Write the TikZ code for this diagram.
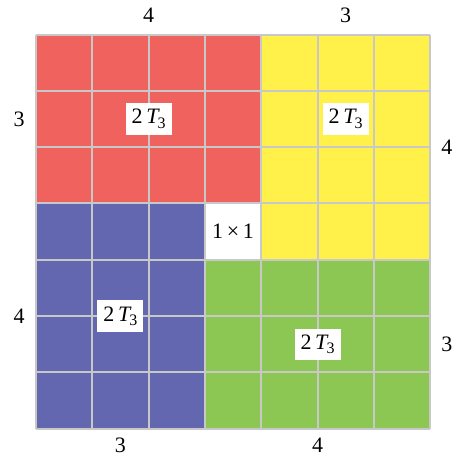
\documentclass[tikz,border=0pt]{standalone}
\usepackage{fontspec}
\setmainfont{Liberation Serif}
\definecolor{redc}{RGB}{240,98,94}
\definecolor{yelc}{RGB}{255,241,74}
\definecolor{bluc}{RGB}{99,103,175}
\definecolor{grnc}{RGB}{141,199,83}
\definecolor{gridc}{RGB}{200,200,200}
\newcommand{\Tlab}{2\,\textit{T}\kern-0.1em\raisebox{-0.2em}{\fontsize{16}{18}\selectfont 3}}
\tikzset{
  lab/.style={fill=white, inner xsep=6pt, inner ysep=6pt, font=\rmfamily\fontsize{22}{26}\selectfont},
  side/.style={font=\rmfamily\fontsize{22}{26}\selectfont, inner sep=0pt}
}
\begin{document}
\begin{tikzpicture}[x=1pt,y=-1pt]
\useasboundingbox (0,0) rectangle (456,458);
\begin{scope}[shift={(36,34.5)}, x=56.3pt, y=-56.3pt]
  \fill[redc] (0,0) rectangle (4,3);
  \fill[yelc] (4,0) rectangle (7,4);
  \fill[bluc] (0,3) rectangle (3,7);
  \fill[grnc] (3,4) rectangle (7,7);
  \fill[white] (3,3) rectangle (4,4);
  \foreach \i in {0,...,7} {
    \draw[gridc, line width=2pt] (\i,0) -- (\i,7);
    \draw[gridc, line width=2pt] (0,\i) -- (7,\i);
  }
  \node[lab] (rl) at (2,1.5) {\Tlab};
  \node[lab] (yl) at (5.5,1.5) {\Tlab};
  \node[lab] (bl) at (1.5,5) {\Tlab};
  \node[lab] (gl) at (5,5.5) {\Tlab};
  \node[lab, fill=none] (cl) at (3.5,3.5) {1\,×\,1};
  \node[side] (t1) at (2,-0.34) {4};
  \node[side] (t2) at (5.5,-0.34) {3};
  \node[side] (l1) at (-0.3,1.5) {3};
  \node[side] (r1) at (7.3,2) {4};
  \node[side] (l2) at (-0.3,5) {4};
  \node[side] (r2) at (7.3,5.5) {3};
  \node[side] (b1) at (1.5,7.29) {3};
  \node[side] (b2) at (5,7.29) {4};
\end{scope}
\end{tikzpicture}
\end{document}
